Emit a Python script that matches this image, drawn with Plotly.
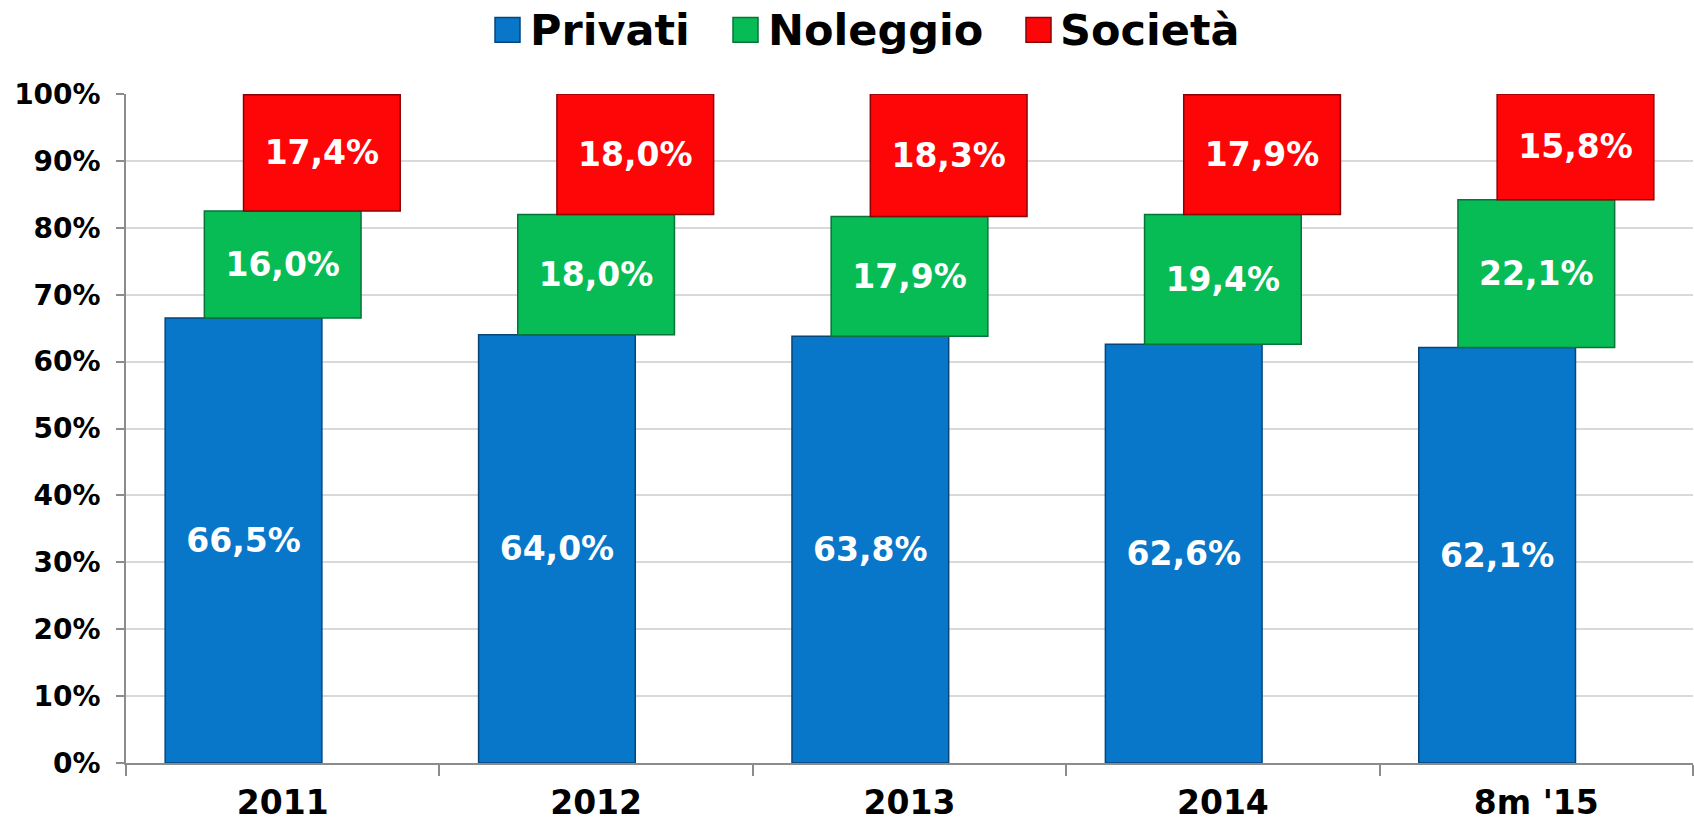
import plotly.graph_objects as go

categories = ["2011", "2012", "2013", "2014", "8m '15"]
privati = [66.5, 64.0, 63.8, 62.6, 62.1]
noleggio = [16.0, 18.0, 17.9, 19.4, 22.1]
societa = [17.4, 18.0, 18.3, 17.9, 15.8]
series_names = ["Privati", "Noleggio", "Società"]
colors = ["#0876C9", "#07BC55", "#FE0508"]
edge_colors = ["#06467A", "#05733A", "#8A0204"]
y_ticks = list(range(0, 101, 10))
y_tick_labels = [f"{v}%" for v in y_ticks]

W, H = 1694, 823
L, R, T, B = 126, 1, 94, 56
pw, ph = W - L - R, H - T - B


def fmt(v):
    return f"{v:.1f}".replace(".", ",") + "%"


base_nol = privati
base_soc = [p + n for p, n in zip(privati, noleggio)]
values = [privati, noleggio, societa]
bases = [[0] * len(privati), base_nol, base_soc]
offsets = [-0.375, -0.25, -0.125]

fig = go.Figure()
for name, vals, base, off, col, ec in zip(series_names, values, bases, offsets, colors, edge_colors):
    fig.add_trace(go.Bar(
        x=categories, y=vals, base=base, name=name,
        width=0.5, offset=off,
        marker=dict(color=col, line=dict(color=ec, width=1.5)),
        text=[fmt(v) for v in vals], textposition="inside",
        insidetextanchor="middle",
        textfont=dict(family="DejaVu Sans", size=33, color="white", weight=700),
        showlegend=False, cliponaxis=False,
    ))

# manual legend (large symbols like the original)
def px2x(px):
    return (px - L) / pw


def py2y(py):
    return (H - B - py) / ph


legend_items = [(495, 532), (733, 770), (1026, 1062)]
shapes = []
annotations = []
for (sx, tx), name, col, ec in zip(legend_items, series_names, colors, edge_colors):
    shapes.append(dict(type="rect", xref="paper", yref="paper",
                       x0=px2x(sx), x1=px2x(sx + 25), y0=py2y(42), y1=py2y(17),
                       fillcolor=col, line=dict(color=ec, width=1.5)))
    annotations.append(dict(xref="paper", yref="paper", x=px2x(tx - 4), y=py2y(30),
                            xanchor="left", yanchor="middle", showarrow=False,
                            text=name,
                            font=dict(family="DejaVu Sans", size=43, color="black", weight=700)))

fig.update_layout(
    width=W, height=H,
    margin=dict(l=L, r=R, t=T, b=B, pad=0),
    paper_bgcolor="white", plot_bgcolor="white",
    barmode="overlay",
    showlegend=False,
    shapes=shapes, annotations=annotations,
    xaxis=dict(
        type="category", tickson="boundaries", ticks="outside", ticklen=11,
        tickcolor="#8C8C8C", tickwidth=1.5,
        showline=True, linecolor="#8C8C8C", linewidth=1.5,
        showgrid=False,
        tickfont=dict(family="DejaVu Sans", size=33, color="black", weight=700),
        ticklabelstandoff=10,
    ),
    yaxis=dict(
        range=[0, 100], tickvals=y_ticks, ticktext=y_tick_labels,
        ticks="outside", ticklen=8, tickcolor="#8C8C8C", tickwidth=1.5,
        showline=True, linecolor="#8C8C8C", linewidth=1.5,
        showgrid=True, gridcolor="#D9D9D9", gridwidth=1.5,
        zeroline=False,
        tickfont=dict(family="DejaVu Sans", size=28, color="black", weight=700),
        ticklabelstandoff=10,
    ),
)

fig.write_html("out.html", config={"displayModeBar": False},
               post_script="document.body.style.margin='0';")
